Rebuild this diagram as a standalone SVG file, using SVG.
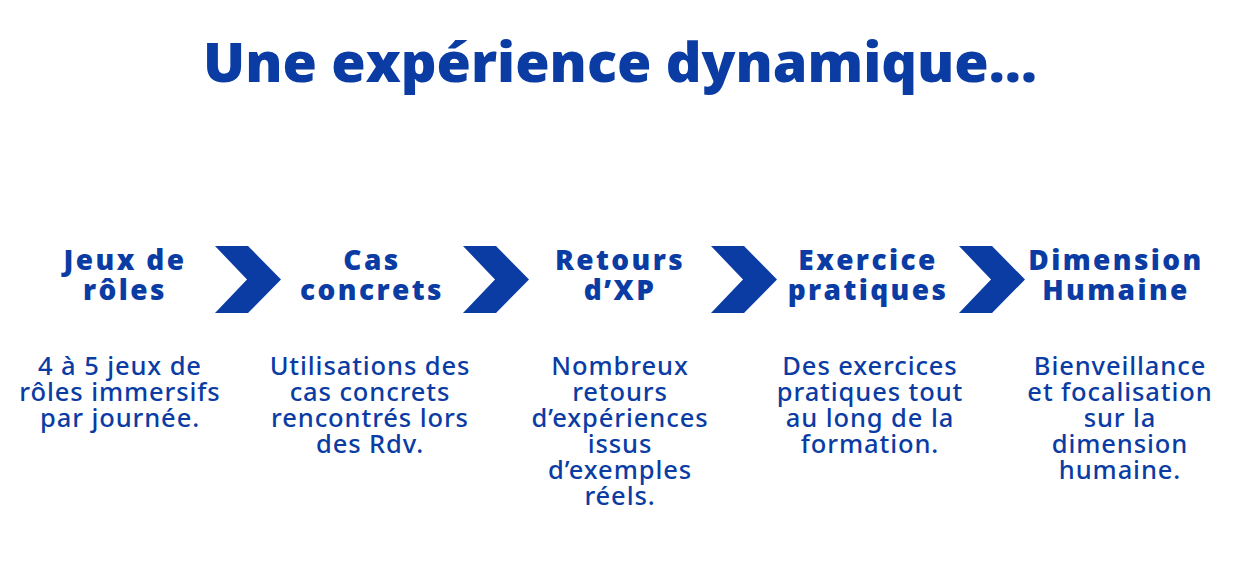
<svg xmlns="http://www.w3.org/2000/svg" width="1240" height="561" viewBox="0 0 1240 561">
<style>
.t{font-family:"Open Sans","Liberation Sans",sans-serif;font-weight:800;font-size:54px;fill:#0a3ca4;text-anchor:middle}
.h{font-family:"Open Sans","Liberation Sans",sans-serif;font-weight:800;font-size:28px;fill:#0a3ca4;text-anchor:middle;letter-spacing:2.4px}
.b{font-family:"Noto Sans","Liberation Sans",sans-serif;font-weight:500;font-size:25.5px;fill:#0a3ca4;text-anchor:middle;letter-spacing:0.9px}
.c{fill:#0a3ca4}
</style>
<defs>
<path id="chev" d="M0,0 H33 L66,33.5 L33,67 H0 L32,33.5 Z"/>
</defs>
<rect width="1240" height="561" fill="#ffffff"/>
<text class="t" x="620" y="82" textLength="834" lengthAdjust="spacingAndGlyphs">Une expérience dynamique…</text>
<g id="connectors">
<use href="#chev" class="c" x="215" y="246"/>
<use href="#chev" class="c" x="463" y="246"/>
<use href="#chev" class="c" x="711" y="246"/>
<use href="#chev" class="c" x="959" y="246"/>
</g>
<g id="n1">
<text class="h" x="125" y="270">Jeux de</text>
<text class="h" x="125" y="300">rôles</text>
<text class="b" x="120" y="375">4 à 5 jeux de</text>
<text class="b" x="120" y="401">rôles immersifs</text>
<text class="b" x="120" y="427">par journée.</text>
</g>
<g id="n2">
<text class="h" x="372" y="270">Cas</text>
<text class="h" x="372" y="300">concrets</text>
<text class="b" x="370" y="375">Utilisations des</text>
<text class="b" x="370" y="401">cas concrets</text>
<text class="b" x="370" y="427">rencontrés lors</text>
<text class="b" x="370" y="453">des Rdv.</text>
</g>
<g id="n3">
<text class="h" x="620" y="270">Retours</text>
<text class="h" x="620" y="300">d’XP</text>
<text class="b" x="620" y="375">Nombreux</text>
<text class="b" x="620" y="401">retours</text>
<text class="b" x="620" y="427">d’expériences</text>
<text class="b" x="620" y="453">issus</text>
<text class="b" x="620" y="479">d’exemples</text>
<text class="b" x="620" y="505">réels.</text>
</g>
<g id="n4">
<text class="h" x="868" y="270">Exercice</text>
<text class="h" x="868" y="300">pratiques</text>
<text class="b" x="870" y="375">Des exercices</text>
<text class="b" x="870" y="401">pratiques tout</text>
<text class="b" x="870" y="427">au long de la</text>
<text class="b" x="870" y="453">formation.</text>
</g>
<g id="n5">
<text class="h" x="1116" y="270">Dimension</text>
<text class="h" x="1116" y="300">Humaine</text>
<text class="b" x="1120" y="375">Bienveillance</text>
<text class="b" x="1120" y="401">et focalisation</text>
<text class="b" x="1120" y="427">sur la</text>
<text class="b" x="1120" y="453">dimension</text>
<text class="b" x="1120" y="479">humaine.</text>
</g>
</svg>
